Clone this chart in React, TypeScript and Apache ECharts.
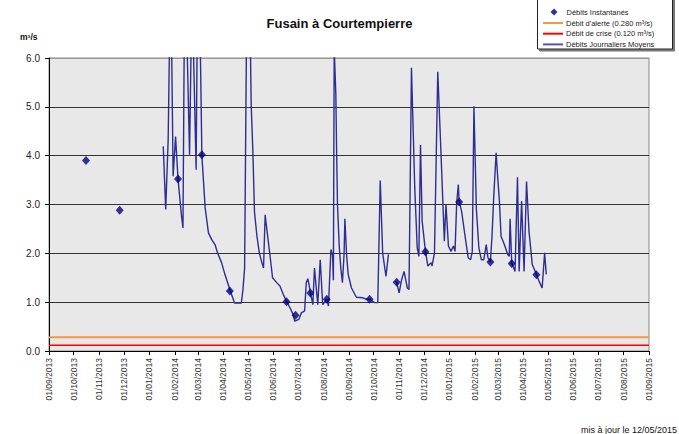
import React, { useEffect, useRef } from 'react';
import * as echarts from 'echarts';

const START = '2013-09-01';
const END = '2015-09-01';

const titleText = 'Fusain à Courtempierre';
const unitText = 'm³/s';
const footerText = 'mis à jour le 12/05/2015';

const seriesNames = [
  'Débits Instantanés',
  "Débit d'alerte (0.280 m³/s)",
  'Débit de crise (0.120 m³/s)',
  'Débits Journaliers Moyens',
];

const alertLevel = 0.28;
const crisisLevel = 0.12;

const instantDates = [
  '2013-10-16', '2013-11-26', '2014-02-05', '2014-03-06', '2014-04-09', '2014-06-17',
  '2014-06-28', '2014-07-16', '2014-08-05', '2014-09-26', '2014-10-29', '2014-12-03',
  '2015-01-13', '2015-02-20', '2015-03-18', '2015-04-17',
];
const instantValues = [
  3.9, 2.88, 3.52, 4.02, 1.23, 1.01,
  0.73, 1.19, 1.06, 1.06, 1.41, 2.03,
  3.05, 1.82, 1.79, 1.56,
];

const dailyDates = [
  '2014-01-18', '2014-01-21', '2014-01-24', '2014-01-27', '2014-01-30', '2014-02-02',
  '2014-02-05', '2014-02-09', '2014-02-11', '2014-02-13', '2014-02-14', '2014-02-15',
  '2014-02-19', '2014-02-22', '2014-02-27', '2014-03-01', '2014-03-02', '2014-03-03',
  '2014-03-06', '2014-03-10', '2014-03-14', '2014-03-18', '2014-03-22', '2014-03-25',
  '2014-03-30', '2014-04-03', '2014-04-09', '2014-04-14', '2014-04-15', '2014-04-23',
  '2014-04-25', '2014-04-27', '2014-05-01', '2014-05-05', '2014-05-07', '2014-05-09',
  '2014-05-12', '2014-05-15', '2014-05-18', '2014-05-20', '2014-05-22', '2014-05-23',
  '2014-05-28', '2014-05-31', '2014-06-05', '2014-06-09', '2014-06-13', '2014-06-17',
  '2014-06-21', '2014-06-25', '2014-06-27', '2014-07-02', '2014-07-05', '2014-07-09',
  '2014-07-11', '2014-07-13', '2014-07-16', '2014-07-19', '2014-07-21', '2014-07-25',
  '2014-07-28', '2014-07-31', '2014-08-05', '2014-08-07', '2014-08-10', '2014-08-12',
  '2014-08-13', '2014-08-14', '2014-08-16', '2014-08-17', '2014-08-18', '2014-08-20',
  '2014-08-22', '2014-08-24', '2014-08-26', '2014-08-27', '2014-08-29', '2014-08-31',
  '2014-09-04', '2014-09-10', '2014-09-18', '2014-09-22', '2014-09-26', '2014-10-02',
  '2014-10-06', '2014-10-09', '2014-10-12', '2014-10-16', '2014-10-19', '2014-10-20',
  '2014-10-27', '2014-10-29', '2014-11-01', '2014-11-04', '2014-11-07', '2014-11-11',
  '2014-11-13', '2014-11-16', '2014-11-20', '2014-11-23', '2014-11-25', '2014-11-27',
  '2014-11-29', '2014-12-03', '2014-12-06', '2014-12-10', '2014-12-11', '2014-12-14',
  '2014-12-18', '2014-12-22', '2014-12-26', '2014-12-28', '2014-12-31', '2015-01-03',
  '2015-01-06', '2015-01-08', '2015-01-10', '2015-01-12', '2015-01-13', '2015-01-16',
  '2015-01-20', '2015-01-24', '2015-01-27', '2015-01-29', '2015-01-31', '2015-02-03',
  '2015-02-06', '2015-02-09', '2015-02-12', '2015-02-15', '2015-02-17', '2015-02-20',
  '2015-02-22', '2015-02-24', '2015-02-27', '2015-03-01', '2015-03-03', '2015-03-05',
  '2015-03-09', '2015-03-13', '2015-03-15', '2015-03-16', '2015-03-18', '2015-03-22',
  '2015-03-25', '2015-03-27', '2015-03-30', '2015-04-02', '2015-04-05', '2015-04-08',
  '2015-04-10', '2015-04-12', '2015-04-17', '2015-04-21', '2015-04-24', '2015-04-27',
  '2015-04-29',
];
const dailyValues: (number | null)[] = [
  4.19, 2.9, 4.33, 8.0, 3.58, 4.39,
  3.52, 2.8, 2.52, 7.5, 9.0, 7.0,
  4.02, 7.5, 3.71, 8.0, 9.0, 7.5,
  4.0, 2.93, 2.42, 2.28, 2.18, 2.01,
  1.81, 1.57, 1.26, 1.02, 0.98, 0.98,
  1.26, 1.7, 10.0, 5.04, 4.1, 2.85,
  2.35, 2.0, 1.81, 1.7, 2.79, 2.64,
  1.94, 1.5, 1.4, 1.33, 1.16, 1.02,
  0.89, 0.75, 0.61, 0.65, 0.78, 0.82,
  1.4, 1.48, 1.2, 0.95, 1.7, 0.95,
  1.87, 0.95, 1.06, 0.92, 2.08, 1.96,
  1.45, 6.2, 5.25, 4.02, 3.0, 2.18,
  1.7, 1.4, 1.98, 2.71, 1.98, 1.57,
  1.29, 1.1, 1.09, 1.06, 1.06, 0.99,
  0.99, 3.49, 2.0, 1.53, 1.98, null,
  1.43, 1.41, 1.19, 1.46, 1.63, 1.29,
  1.26, 5.8, 3.34, 2.11, 1.94, 4.22,
  2.66, 2.04, 1.74, 1.81, 1.74, 2.01,
  5.72, 4.02, 2.25, 3.0, 2.15, 2.04,
  2.15, 2.04, 3.03, 3.41, 3.07, 2.86,
  2.38, 1.91, 1.87, 2.04, 5.01, 2.9,
  2.11, 1.87, 1.87, 2.18, 1.91, 1.83,
  2.35, 3.13, 4.06, 3.54, 3.07, 2.35,
  2.18, 1.98, 1.94, 2.71, 1.8, 1.63,
  3.56, 1.63, 3.07, 1.63, 3.47, 2.45,
  2.11, 1.77, 1.57, 1.4, 1.29, 2.01,
  1.57,
];

function dayKeys(start: string, end: string): string[] {
  const out: string[] = [];
  const d = new Date(start + 'T00:00:00Z');
  const e = new Date(end + 'T00:00:00Z');
  while (d.getTime() <= e.getTime()) {
    out.push(d.toISOString().slice(0, 10));
    d.setUTCDate(d.getUTCDate() + 1);
  }
  return out;
}
const toLabel = (k: string) => `${k.slice(8, 10)}/${k.slice(5, 7)}/${k.slice(0, 4)}`;

const FONT = 'Liberation Sans, Arial, sans-serif';
const legendText = { fontSize: 7.5, color: '#222', fontFamily: FONT, lineHeight: 9 };

export default function App() {
  const ref = useRef<HTMLDivElement>(null);
  useEffect(() => {
    if (!ref.current) return;
    const chart = echarts.init(ref.current, null, { renderer: 'svg' });
    const keys = dayKeys(START, END);
    const labels = keys.map(toLabel);
    const idx: Record<string, number> = {};
    keys.forEach((k, i) => (idx[k] = i));
    const isMonthStart = (_i: number, v: string) => typeof v === 'string' && v.startsWith('01/');
    const last = keys.length - 1;

    chart.setOption({
      animation: false,
      textStyle: { fontFamily: FONT },
      title: {
        text: titleText,
        left: 'center',
        top: 12,
        textStyle: { fontSize: 13, fontWeight: 'bold', color: '#111', fontFamily: FONT },
      },
      graphic: [
        {
          type: 'rect',
          z: 1,
          shape: { x: 537.5, y: -5, width: 135, height: 54 },
          style: {
            fill: '#fff',
            stroke: '#222',
            lineWidth: 1,
            shadowColor: '#777',
            shadowOffsetX: 2,
            shadowOffsetY: 2,
            shadowBlur: 0,
          },
        },
        {
          type: 'text',
          left: 20,
          top: 32,
          style: { text: unitText, font: `bold 8.5px ${FONT}`, fill: '#111' },
        },
        {
          type: 'text',
          right: 2,
          top: 425,
          style: { text: footerText, font: `9px ${FONT}`, fill: '#111' },
        },
      ],
      legend: [
        {
          data: [{ name: seriesNames[0], icon: 'diamond' }],
          orient: 'vertical',
          left: 550.5,
          top: 7.5,
          itemWidth: 7,
          itemHeight: 7,
          padding: 0,
          z: 5,
          textStyle: { ...legendText, padding: [0, 0, 0, 4] },
        },
        {
          data: seriesNames.slice(1),
          icon: 'rect',
          orient: 'vertical',
          left: 543,
          top: 18.5,
          itemWidth: 20,
          itemHeight: 2,
          itemGap: 1.7,
          padding: 0,
          z: 5,
          textStyle: { ...legendText, padding: [0, 0, 0, -2] },
        },
      ],
      grid: {
        left: 49,
        right: 30,
        top: 58,
        bottom: 83,
        show: true,
        backgroundColor: '#e8e8e8',
        borderColor: '#888',
        borderWidth: 1,
      },
      xAxis: {
        type: 'category',
        data: labels,
        boundaryGap: false,
        axisLine: { lineStyle: { color: '#000', width: 1 } },
        axisTick: { show: true, interval: isMonthStart, length: 4, lineStyle: { color: '#000' } },
        axisLabel: {
          interval: isMonthStart,
          rotate: 90,
          fontSize: 8.5,
          color: '#333',
          margin: 7,
          fontFamily: FONT,
        },
        splitLine: { show: false },
      },
      yAxis: {
        type: 'value',
        min: 0,
        max: 6,
        interval: 1,
        axisLine: { show: true, lineStyle: { color: '#000', width: 1 } },
        axisTick: { show: true, length: 4, lineStyle: { color: '#000' } },
        axisLabel: {
          formatter: (v: number) => v.toFixed(1),
          fontSize: 10,
          color: '#222',
          margin: 9,
          fontFamily: FONT,
        },
        splitLine: {
          show: true,
          lineStyle: { color: ['#222', '#333', '#333', '#333', '#333', '#333', '#999'], width: 1.2 },
        },
      },
      series: [
        {
          name: seriesNames[0],
          type: 'scatter',
          symbol: 'diamond',
          symbolSize: [8, 9],
          itemStyle: { color: '#000080' },
          z: 5,
          data: instantDates.map((d, i) => [idx[d], instantValues[i]]),
        },
        {
          name: seriesNames[1],
          type: 'line',
          symbol: 'none',
          lineStyle: { color: '#f79646', width: 2 },
          itemStyle: { color: '#f79646' },
          data: [[0, alertLevel], [last, alertLevel]],
        },
        {
          name: seriesNames[2],
          type: 'line',
          symbol: 'none',
          lineStyle: { color: '#ff0000', width: 1.5 },
          itemStyle: { color: '#ff0000' },
          data: [[0, crisisLevel], [last, crisisLevel]],
        },
        {
          name: seriesNames[3],
          type: 'line',
          symbol: 'none',
          connectNulls: false,
          clip: true,
          lineStyle: { color: '#2e2e92', width: 1.4 },
          itemStyle: { color: '#5454a8' },
          data: dailyDates.map((d, i) => [idx[d], dailyValues[i] === null ? '-' : dailyValues[i]]),
        },
      ],
    });
    return () => chart.dispose();
  }, []);
  return (
    <div
      ref={ref}
      style={{ position: 'fixed', left: 0, top: 0, width: 679, height: 434, background: '#fff' }}
    />
  );
}
